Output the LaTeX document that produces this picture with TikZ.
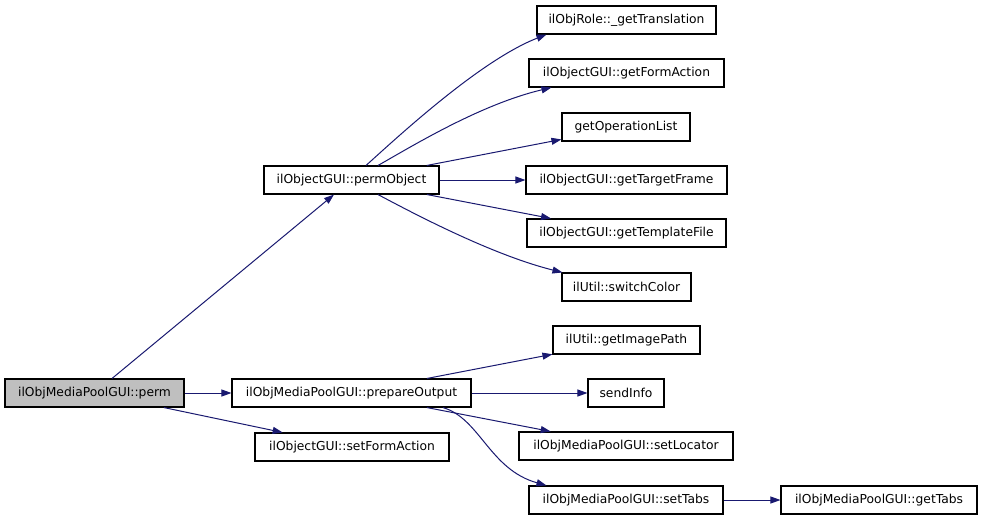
\documentclass[tikz,border=0pt]{standalone}
\usepackage{fontspec}
\setmainfont{DejaVu Sans}
\usetikzlibrary{arrows.meta,calc}
\definecolor{edgeblue}{RGB}{25,25,112}
\definecolor{rootgrey}{RGB}{191,191,191}
\begin{document}
\begin{tikzpicture}[x=1pt,y=-1pt,
  fn/.style={draw=black,line width=1.1pt,fill=white,inner sep=0pt,minimum height=28pt,font=\fontsize{12.3}{14}\selectfont,anchor=center},
  root/.style={fn,fill=rootgrey},
  edge/.style={draw=edgeblue,line width=1pt,-{Triangle[length=10pt,width=7pt]}}]
\useasboundingbox[fill=white] (0,0) rectangle (981,520);
% nodes
\node[root,minimum width=179pt] (perm) at (94.5,393) {ilObjMediaPoolGUI::perm};
\node[fn,minimum width=175pt] (permObject) at (351.5,180) {ilObjectGUI::permObject};
\node[fn,minimum width=239pt] (prepareOutput) at (351.5,393) {ilObjMediaPoolGUI::prepareOutput};
\node[fn,minimum width=194pt] (setFormAction) at (352,447) {ilObjectGUI::setFormAction};
\node[fn,minimum width=179pt] (getTranslation) at (626.5,20) {ilObjRole::\_getTranslation};
\node[fn,minimum width=195pt] (getFormAction) at (626.5,73) {ilObjectGUI::getFormAction};
\node[fn,minimum width=128pt] (getOperationList) at (626,127) {getOperationList};
\node[fn,minimum width=201pt] (getTargetFrame) at (626.5,180) {ilObjectGUI::getTargetFrame};
\node[fn,minimum width=199pt] (getTemplateFile) at (626.5,233) {ilObjectGUI::getTemplateFile};
\node[fn,minimum width=129pt] (switchColor) at (626.5,287) {ilUtil::switchColor};
\node[fn,minimum width=147pt] (getImagePath) at (626.5,340) {ilUtil::getImagePath};
\node[fn,minimum width=76pt] (sendInfo) at (626,393) {sendInfo};
\node[fn,minimum width=214pt] (setLocator) at (626,446) {ilObjMediaPoolGUI::setLocator};
\node[fn,minimum width=194pt] (setTabs) at (626,500) {ilObjMediaPoolGUI::setTabs};
\node[fn,minimum width=196pt] (getTabs) at (879,500) {ilObjMediaPoolGUI::getTabs};
% edges
\draw[edge] (perm) -- (permObject);
\draw[edge] (perm) -- (prepareOutput);
\draw[edge] (perm) -- (setFormAction);
\draw[edge] ($(permObject.north)+(14.5,0)$) .. controls +(29,-26) and +(-67,26) .. ($(getTranslation.south west)+(10,0)$);
\draw[edge] ($(permObject.north)+(26.5,0)$) .. controls +(32,-18) and +(-72,17) .. ($(getFormAction.south west)+(23,0)$);
\draw[edge] (permObject) -- (getOperationList);
\draw[edge] (permObject) -- (getTargetFrame);
\draw[edge] (permObject) -- (getTemplateFile);
\draw[edge] ($(permObject.south)+(26.5,0)$) .. controls +(32,17) and +(-72,-18) .. ($(switchColor.north west)+(1,0)$);
\draw[edge] (prepareOutput) -- (getImagePath);
\draw[edge] (prepareOutput) -- (sendInfo);
\draw[edge] (prepareOutput) -- (setLocator);
\draw[edge] ($(prepareOutput.south)+(91.5,0)$) .. controls +(37,11) and +(-57,-16) .. ($(setTabs.north west)+(18,0)$);
\draw[edge] (setTabs) -- (getTabs);
\end{tikzpicture}
\end{document}
